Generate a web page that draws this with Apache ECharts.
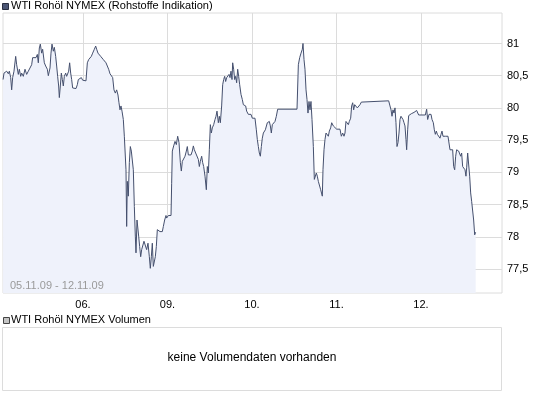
<!DOCTYPE html>
<html><head><meta charset="utf-8">
<script src="https://cdn.jsdelivr.net/npm/echarts@6/dist/echarts.min.js"></script>
<style>html,body{margin:0;padding:0;background:#fff}#c{width:545px;height:395px}</style>
</head><body><div id="c"></div>
<script>
// trading time in hours since 05.11.09 00:00 (weekend removed; 24 h per trading day)
const times = [
1.3,1.56,2.32,2.79,3.08,3.46,3.74,4.02,4.40,4.88,5.16,5.63,5.92,6.30,6.58,7.05,7.53,8.0,8.47,8.95,
9.42,9.70,10.18,10.65,11.03,11.31,11.60,11.88,12.26,12.54,13.02,13.40,13.87,14.15,14.63,14.91,15.2,15.57,15.86,16.24,
16.52,16.80,17.09,17.28,17.56,17.85,18.13,18.41,18.70,19.08,19.36,19.64,19.93,20.21,20.5,20.78,21.06,21.44,22.01,22.39,
22.67,23.15,23.53,23.9,24.28,24.85,25.23,25.61,25.99,26.37,26.74,27.22,27.6,27.88,28.26,28.64,29.02,29.4,29.77,30.15,
30.53,30.91,31.29,31.67,32.14,32.43,32.8,33.18,33.56,33.94,34.22,34.51,34.79,35.08,35.45,35.74,36.02,36.21,36.4,36.59,
36.87,37.16,37.44,37.73,38.01,38.29,38.58,38.86,39.05,39.34,39.52,39.81,40.09,40.38,40.66,40.95,41.32,41.70,42.08,42.46,
42.84,43.12,43.41,43.69,43.97,44.26,44.54,44.83,45.11,45.49,45.87,46.25,46.53,46.82,47.19,47.57,
47.76,48.24,49.0,49.18,49.37,49.75,50.13,50.51,50.89,51.27,51.65,51.93,52.21,52.59,52.97,53.35,53.63,53.92,54.30,54.67,
55.05,55.34,55.62,56.0,56.38,56.76,57.04,57.32,57.70,57.99,58.27,58.65,59.03,59.31,59.60,59.88,60.17,60.45,60.73,61.11,
61.49,61.77,62.06,62.44,62.72,63.01,63.38,63.67,63.95,64.24,64.52,64.80,65.09,65.47,65.75,66.03,66.32,66.51,66.79,67.08,
67.36,67.64,67.93,68.21,68.50,68.87,69.25,69.54,69.82,70.20,70.48,70.96,71.34,71.71,72.09,72.85,73.23,73.51,73.80,74.08,
74.37,74.65,74.93,75.22,75.50,75.79,76.07,76.35,76.64,76.92,77.21,77.49,77.77,78.15,78.53,78.91,79.29,84.78,85.16,85.54,
85.92,86.29,86.48,86.77,87.05,87.34,87.62,87.90,88.19,88.47,88.75,89.04,89.42,89.70,89.99,90.27,90.55,90.84,91.22,91.50,
91.78,91.97,92.16,92.45,92.73,93.02,93.30,93.68,93.96,94.34,94.63,
95.10,95.57,96.04,96.99,97.37,97.75,98.13,98.41,98.69,99.07,99.36,99.64,100.02,100.30,100.59,100.87,101.16,101.53,101.91,102.29,
102.67,103.05,103.43,110.81,111.19,111.48,111.76,112.04,112.33,112.61,112.89,113.18,113.46,113.75,114.03,114.31,114.60,114.88,115.17,115.45,
115.73,115.92,116.21,116.49,116.87,117.25,117.63,118.01,118.39,118.76,119.05,119.33,119.71,121.23,121.60,121.89,122.27,122.55,122.84,123.12,
123.50,123.78,124.07,124.35,124.64,125.01,125.39,125.68,125.96,126.24,126.53,126.91,127.28,127.66,127.95,128.23,128.61,128.99,129.27,129.56,
129.84,130.12,130.41,130.69,130.98,131.26,131.54,131.83,132.21,132.49,132.77,132.96,133.25,133.53,133.82,134.10,134.38,134.67,134.95,135.24,135.52
];
const prices = [
80.44,80.54,80.57,80.53,80.57,80.47,80.28,80.47,80.57,80.80,80.67,80.52,80.60,80.49,80.54,80.49,80.60,80.52,80.57,80.60,
80.67,80.78,80.80,80.78,80.83,80.70,80.93,80.99,80.85,80.91,80.70,80.65,80.60,80.50,80.62,80.85,80.99,80.88,80.94,80.80,
80.65,80.49,80.34,80.16,80.34,80.54,80.44,80.34,80.49,80.54,80.49,80.52,80.57,80.70,80.54,80.44,80.31,80.30,80.30,80.36,
80.44,80.41,80.47,80.43,80.42,80.42,80.70,80.75,80.73,80.80,80.85,80.91,80.96,80.91,80.85,80.88,80.80,80.83,80.75,80.78,
80.70,80.67,80.60,80.53,80.52,80.47,80.28,80.23,80.28,80.20,80.08,79.97,80.03,79.95,79.82,79.56,79.54,79.04,78.16,78.86,
78.63,79.15,79.40,79.33,79.30,79.04,78.47,78.01,77.75,78.26,78.26,78.01,77.85,77.69,77.80,77.82,77.93,77.90,77.80,77.90,
77.69,77.51,77.69,77.90,77.54,77.51,77.69,77.85,78.11,78.11,78.08,78.06,78.08,78.16,78.26,78.33,
78.29,78.33,78.33,78.83,79.33,79.41,79.48,79.43,79.56,79.46,79.15,79.02,79.17,79.15,79.25,79.33,79.40,79.27,79.25,79.27,
79.33,79.41,79.35,79.30,79.27,79.20,79.09,79.17,79.25,79.15,79.09,78.94,78.73,79.09,78.99,79.35,79.74,79.61,79.69,79.74,
79.82,79.87,79.95,79.77,79.87,79.77,80.03,80.36,80.44,80.49,80.41,80.47,80.44,80.52,80.47,80.57,80.44,80.70,80.60,80.44,
80.49,80.39,80.60,80.49,80.36,80.21,80.13,80.05,80.03,80.03,79.95,79.90,79.87,79.90,79.84,79.84,79.66,79.51,79.40,79.30,
79.25,79.40,79.53,79.61,79.64,79.66,79.69,79.77,79.79,79.79,79.72,79.61,79.74,79.77,79.79,79.87,79.98,79.98,80.67,80.78,
80.85,80.91,81.0,80.75,80.60,80.28,80.13,79.92,80.10,79.97,80.10,79.82,79.40,78.89,78.86,78.99,78.94,78.86,78.83,78.73,
78.73,78.63,79.04,79.35,79.51,79.61,79.59,79.56,79.64,79.69,79.77,
79.72,79.74,79.67,79.67,79.56,79.61,79.56,79.61,79.79,79.82,79.74,79.79,79.84,80.03,80.08,79.97,80.05,80.03,80.00,80.03,
80.05,80.09,80.11,80.11,80.03,79.97,79.87,79.97,79.92,80.00,79.77,79.40,79.46,79.61,79.82,79.87,79.90,79.82,79.77,79.72,
79.51,79.35,79.66,79.88,79.87,79.91,79.90,79.93,79.92,79.96,79.95,79.89,79.89,79.89,79.98,79.82,79.90,79.87,79.90,79.82,
79.77,79.66,79.59,79.64,79.59,79.56,79.53,79.59,79.64,79.56,79.59,79.56,79.53,79.56,79.53,79.35,79.33,79.35,79.09,79.04,
79.25,79.35,79.35,79.33,79.30,79.25,79.30,79.09,79.07,79.04,78.94,79.07,79.30,79.31,78.94,78.68,78.55,78.52,78.26,78.03,78.07
];
const dayTicks = [24, 48, 72, 96, 120];
const dayLabels = ['06.', '09.', '10.', '11.', '12.'];
const priceTicks = [77.5, 78, 78.5, 79, 79.5, 80, 80.5, 81];
const titleText = 'WTI Rohöl NYMEX (Rohstoffe Indikation)';
const volTitleText = 'WTI Rohöl NYMEX Volumen';
const volNoteText = 'keine Volumendaten vorhanden';
const rangeText = '05.11.09 - 12.11.09';

const FONT = '"Liberation Sans", Arial, sans-serif';
const GRID = '#dcdcdc';
const seriesData = times.map((t, i) => [t, prices[i]]);

const chart = echarts.init(document.getElementById('c'), null, {renderer: 'canvas'});
chart.setOption({
  animation: false,
  backgroundColor: '#fff',
  grid: {left: 3, right: 43, top: 13, bottom: 102, show: true, borderColor: GRID, borderWidth: 1, backgroundColor: 'transparent'},
  xAxis: {
    type: 'value', min: 1.28, max: 143.0,
    axisLine: {show: false},
    axisTick: {show: false, customValues: dayTicks},
    splitLine: {show: true, lineStyle: {color: GRID, width: 1}},
    axisLabel: {
      customValues: dayTicks, margin: 6, color: '#000', fontFamily: FONT, fontSize: 11,
      formatter: v => dayLabels[dayTicks.indexOf(v)] || ''
    }
  },
  yAxis: {
    type: 'value', position: 'right', min: 77.127, max: 81.473,
    axisLine: {show: false},
    axisTick: {show: false, customValues: priceTicks},
    splitLine: {show: true, lineStyle: {color: GRID, width: 1}},
    axisLabel: {
      customValues: priceTicks, margin: 5, color: '#000', fontFamily: FONT, fontSize: 11,
      formatter: v => String(v).replace('.', ',')
    }
  },
  series: [{
    type: 'line', data: seriesData, showSymbol: false, symbol: 'none',
    lineStyle: {color: '#45506e', width: 1},
    areaStyle: {color: '#eff2fb', opacity: 1, origin: 'start'},
    z: 2
  }],
  graphic: [
    {type: 'rect', left: 2, top: 3, shape: {width: 6, height: 6}, style: {fill: '#4c5675', stroke: '#2a2f40', lineWidth: 1}},
    {type: 'text', left: 11, top: 0, style: {text: titleText, fill: '#000', font: '11px ' + FONT}},
    {type: 'text', left: 10, top: 280, z: 10, style: {text: rangeText, fill: '#9a9a9a', font: '11px ' + FONT}},
    {type: 'rect', left: 3, top: 317, shape: {width: 6, height: 6}, style: {fill: '#c4c4c4', stroke: '#444', lineWidth: 1}},
    {type: 'text', left: 11, top: 314, style: {text: volTitleText, fill: '#000', font: '11px ' + FONT}},
    {type: 'rect', shape: {x: 2.5, y: 327.5, width: 499, height: 63}, style: {fill: 'none', stroke: GRID, lineWidth: 1}},
    {type: 'text', x: 252, y: 358, style: {text: volNoteText, fill: '#000', font: '12px ' + FONT, align: 'center', verticalAlign: 'middle'}}
  ]
});
</script>
</body></html>
